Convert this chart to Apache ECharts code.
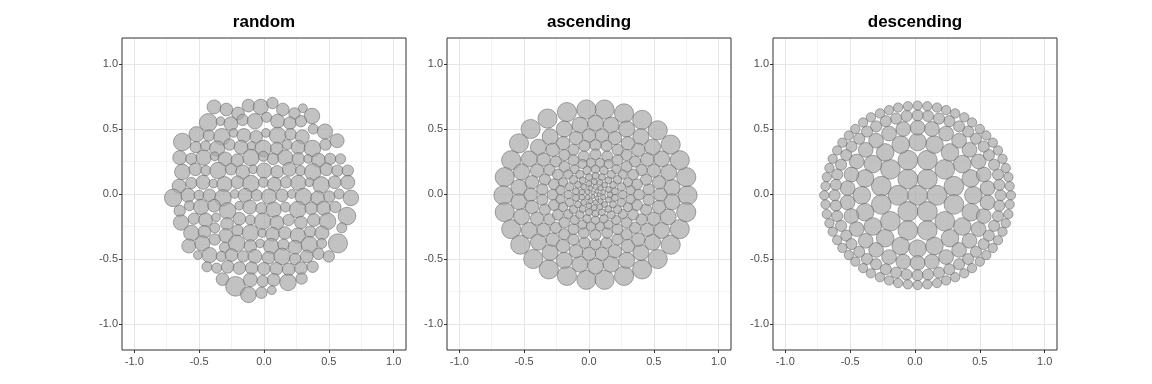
<!DOCTYPE html>
<html>
<head>
<meta charset="utf-8">
<script src="https://cdn.jsdelivr.net/npm/echarts@6/dist/echarts.min.js"></script>
<style>
html,body{margin:0;padding:0;background:#fff;}
#chart{width:1152px;height:384px;}
</style>
</head>
<body>
<div id="chart"></div>
<script>
// ---------- tick labels / titles ----------
const panelTitles = ['random', 'ascending', 'descending'];
const majorBreaks = [-1, -0.5, 0, 0.5, 1];
const minorBreaks = [-0.75, -0.25, 0.25, 0.75];

// ---------- panel "random": circles [x, y, radius] ----------
const randomUpper = [
[-0.385,0.67,0.054],[-0.29,0.65,0.049],[-0.2,0.62,0.049],[-0.12,0.68,0.049],[-0.025,0.67,0.059],[0.065,0.70,0.044],[0.145,0.65,0.049],[0.235,0.62,0.044],[0.30,0.66,0.034],[0.37,0.60,0.06],
[-0.43,0.55,0.069],[-0.335,0.56,0.034],[-0.255,0.54,0.054],[-0.165,0.57,0.044],[-0.07,0.56,0.059],[0.02,0.59,0.039],[0.105,0.56,0.054],[0.2,0.545,0.049],[0.285,0.56,0.044],
[-0.52,0.46,0.059],[-0.425,0.45,0.044],[-0.325,0.44,0.064],[-0.235,0.47,0.034],[-0.155,0.45,0.054],[-0.06,0.44,0.049],[0.015,0.47,0.034],[0.105,0.45,0.064],[0.205,0.46,0.044],[0.295,0.44,0.054],[0.38,0.50,0.039],[0.47,0.48,0.059],
[-0.63,0.40,0.068],[-0.526,0.36,0.044],[-0.451,0.37,0.039],[-0.361,0.35,0.059],[-0.266,0.38,0.044],[-0.176,0.36,0.054],[-0.096,0.37,0.034],[-0.006,0.35,0.064],[0.099,0.35,0.049],[0.179,0.38,0.039],[0.264,0.36,0.054],[0.374,0.35,0.064],[0.474,0.38,0.044],[0.564,0.41,0.054],
[-0.65,0.28,0.054],[-0.56,0.27,0.044],[-0.465,0.28,0.059],[-0.38,0.29,0.034],[-0.30,0.27,0.054],[-0.205,0.26,0.049],[-0.10,0.28,0.064],[-0.005,0.29,0.039],[0.07,0.27,0.044],[0.165,0.28,0.059],[0.265,0.27,0.049],[0.34,0.27,0.034],[0.42,0.26,0.054],[0.51,0.27,0.044],[0.59,0.27,0.04]
];
const randomMiddle = [
[-0.63,0.17,0.06],[-0.529,0.19,0.049],[-0.449,0.18,0.039],[-0.354,0.18,0.064],[-0.254,0.19,0.044],[-0.164,0.17,0.054],[-0.084,0.19,0.034],[0.001,0.18,0.059],[0.101,0.17,0.049],[0.196,0.19,0.054],[0.281,0.18,0.039],[0.376,0.17,0.064],[0.481,0.19,0.049],[0.566,0.18,0.044],[0.646,0.18,0.044],
[-0.655,0.06,0.054],[-0.56,0.085,0.044],[-0.47,0.09,0.054],[-0.39,0.08,0.034],[-0.305,0.075,0.059],[-0.205,0.09,0.049],[-0.10,0.08,0.064],[-0.005,0.09,0.039],[0.08,0.075,0.054],[0.17,0.09,0.044],[0.265,0.085,0.059],[0.35,0.09,0.034],[0.44,0.07,0.064],[0.545,0.09,0.049],[0.646,0.09,0.054],
[-0.70,-0.03,0.068],[-0.586,-0.01,0.054],[-0.501,-0.01,0.039],[-0.421,-0.01,0.049],[-0.316,-0.03,0.064],[-0.226,0.0,0.034],[-0.146,-0.01,0.054],[-0.056,-0.01,0.044],[0.039,-0.02,0.059],[0.139,-0.01,0.049],[0.214,0.0,0.034],[0.304,-0.02,0.064],[0.414,-0.03,0.054],[0.504,-0.02,0.044],[0.579,0.0,0.039],[0.67,-0.03,0.06],
[-0.65,-0.13,0.044],[-0.575,-0.09,0.039],[-0.485,-0.1,0.059],[-0.385,-0.09,0.049],[-0.28,-0.13,0.064],[-0.19,-0.09,0.034],[-0.11,-0.1,0.054],[-0.02,-0.11,0.044],[0.075,-0.12,0.059],[0.165,-0.1,0.039],[0.26,-0.12,0.064],[0.365,-0.11,0.049],[0.46,-0.11,0.054],[0.55,-0.1,0.044],
[-0.64,-0.22,0.059],[-0.54,-0.19,0.044],[-0.45,-0.2,0.054],[-0.37,-0.18,0.034],[-0.285,-0.23,0.049],[-0.19,-0.19,0.049],[-0.105,-0.2,0.039],[-0.01,-0.21,0.064],[0.10,-0.22,0.054],[0.19,-0.2,0.044],[0.285,-0.22,0.049],[0.385,-0.2,0.049],[0.49,-0.21,0.064],[0.64,-0.17,0.068]
];
const randomLower = [
[-0.56,-0.3,0.06],[-0.459,-0.29,0.049],[-0.379,-0.26,0.039],[-0.294,-0.32,0.054],[-0.204,-0.28,0.044],[-0.104,-0.3,0.064],[-0.014,-0.3,0.034],[0.066,-0.31,0.054],[0.161,-0.3,0.049],[0.261,-0.32,0.059],[0.356,-0.29,0.044],[0.446,-0.3,0.054],[0.6,-0.26,0.039],
[-0.58,-0.4,0.054],[-0.475,-0.38,0.059],[-0.38,-0.35,0.044],[-0.305,-0.41,0.039],[-0.21,-0.38,0.064],[-0.105,-0.4,0.049],[-0.03,-0.38,0.034],[0.055,-0.4,0.059],[0.15,-0.39,0.044],[0.24,-0.41,0.054],[0.35,-0.39,0.064],[0.445,-0.38,0.039],[0.57,-0.38,0.074],
[-0.51,-0.47,0.034],[-0.42,-0.47,0.059],[-0.33,-0.48,0.039],[-0.25,-0.47,0.049],[-0.16,-0.48,0.044],[-0.07,-0.48,0.054],[0.035,-0.49,0.049],[0.14,-0.48,0.064],[0.24,-0.5,0.044],[0.33,-0.48,0.049],[0.42,-0.46,0.044],[0.50,-0.48,0.044],
[-0.44,-0.56,0.039],[-0.365,-0.57,0.039],[-0.28,-0.56,0.049],[-0.19,-0.57,0.049],[-0.095,-0.57,0.049],[0.0,-0.575,0.049],[0.095,-0.575,0.049],[0.19,-0.58,0.049],[0.285,-0.57,0.049],[0.375,-0.56,0.044],
[-0.32,-0.655,0.049],[-0.22,-0.71,0.076],[-0.105,-0.66,0.054],[-0.12,-0.775,0.061],[-0.01,-0.67,0.044],[-0.02,-0.76,0.044],[0.075,-0.66,0.049],[0.185,-0.68,0.064],[0.29,-0.65,0.044],[0.06,-0.74,0.034]
];

// ---------- panel "ascending": rings of circles [x, y] with one radius per ring ----------
const ascendingOuter = [[0.76,-0.01],[0.75,0.13],[0.70,0.26],[0.63,0.38],[0.53,0.49],[0.41,0.57],[0.27,0.62],[0.12,0.65],[-0.02,0.65],[-0.17,0.63],[-0.32,0.58],[-0.45,0.50],[-0.54,0.39],[-0.60,0.26],[-0.65,0.13],[-0.66,-0.01],[-0.65,-0.14],[-0.60,-0.27],[-0.53,-0.39],[-0.43,-0.50],[-0.31,-0.58],[-0.17,-0.63],[-0.02,-0.66],[0.12,-0.66],[0.27,-0.63],[0.41,-0.58],[0.53,-0.50],[0.63,-0.39],[0.70,-0.27],[0.75,-0.14]];
const ascendingRing9 = [[0.64,0.05],[0.615,0.165],[0.56,0.27],[0.49,0.36],[0.40,0.44],[0.29,0.50],[0.17,0.53],[0.05,0.545],[-0.07,0.53],[-0.19,0.50],[-0.30,0.44],[-0.39,0.36],[-0.46,0.27],[-0.52,0.17],[-0.54,0.05],[-0.54,-0.06],[-0.52,-0.175],[-0.46,-0.28],[-0.39,-0.37],[-0.30,-0.45],[-0.19,-0.51],[-0.07,-0.54],[0.05,-0.555],[0.17,-0.54],[0.29,-0.51],[0.40,-0.45],[0.49,-0.37],[0.56,-0.28],[0.61,-0.175],[0.64,-0.06]];
const ascendingRing8 = [[0.55,-0.005],[0.54,0.09],[0.50,0.18],[0.45,0.265],[0.38,0.34],[0.30,0.39],[0.20,0.43],[0.10,0.45],[0.0,0.45],[-0.10,0.43],[-0.20,0.39],[-0.28,0.34],[-0.35,0.265],[-0.40,0.18],[-0.44,0.09],[-0.45,-0.005],[-0.44,-0.10],[-0.40,-0.19],[-0.35,-0.275],[-0.28,-0.35],[-0.20,-0.40],[-0.10,-0.44],[0.0,-0.46],[0.10,-0.46],[0.20,-0.44],[0.30,-0.40],[0.38,-0.35],[0.45,-0.275],[0.50,-0.19],[0.54,-0.10]];
const ascendingRing7 = [[0.46,0.035],[0.44,0.11],[0.405,0.185],[0.355,0.25],[0.29,0.30],[0.22,0.34],[0.135,0.37],[0.05,0.375],[-0.035,0.37],[-0.12,0.34],[-0.19,0.30],[-0.255,0.25],[-0.305,0.185],[-0.34,0.11],[-0.36,0.035],[-0.36,-0.045],[-0.34,-0.12],[-0.305,-0.195],[-0.255,-0.26],[-0.19,-0.31],[-0.12,-0.35],[-0.035,-0.375],[0.05,-0.385],[0.135,-0.375],[0.22,-0.35],[0.29,-0.31],[0.355,-0.26],[0.405,-0.195],[0.44,-0.12],[0.46,-0.045]];
const ascendingRing6 = [[0.385,-0.005],[0.37,0.075],[0.34,0.15],[0.29,0.21],[0.22,0.26],[0.14,0.29],[0.05,0.305],[-0.04,0.29],[-0.12,0.26],[-0.19,0.21],[-0.24,0.15],[-0.27,0.075],[-0.28,-0.005],[-0.27,-0.085],[-0.24,-0.16],[-0.19,-0.22],[-0.12,-0.27],[-0.04,-0.30],[0.05,-0.315],[0.14,-0.30],[0.22,-0.27],[0.29,-0.22],[0.34,-0.16],[0.37,-0.085]];
const ascendingRing5 = [[0.32,0.03],[0.30,0.09],[0.26,0.15],[0.21,0.19],[0.15,0.23],[0.085,0.24],[0.015,0.24],[-0.05,0.23],[-0.11,0.19],[-0.16,0.15],[-0.20,0.09],[-0.22,0.03],[-0.22,-0.04],[-0.20,-0.10],[-0.16,-0.155],[-0.11,-0.20],[-0.05,-0.235],[0.015,-0.25],[0.085,-0.25],[0.15,-0.235],[0.21,-0.20],[0.26,-0.155],[0.30,-0.10],[0.32,-0.04]];
const ascendingRing4 = [[0.26,-0.005],[0.25,0.055],[0.22,0.11],[0.17,0.15],[0.115,0.18],[0.05,0.19],[-0.015,0.18],[-0.07,0.15],[-0.12,0.11],[-0.15,0.055],[-0.16,-0.005],[-0.15,-0.065],[-0.12,-0.12],[-0.07,-0.16],[-0.015,-0.19],[0.05,-0.20],[0.115,-0.19],[0.17,-0.16],[0.22,-0.12],[0.25,-0.065]];
const ascendingRing3 = [[0.20,0.02],[0.185,0.07],[0.15,0.105],[0.10,0.13],[0.05,0.14],[0.0,0.13],[-0.05,0.105],[-0.085,0.07],[-0.10,0.02],[-0.10,-0.03],[-0.085,-0.08],[-0.05,-0.115],[0.0,-0.14],[0.05,-0.15],[0.10,-0.14],[0.15,-0.115],[0.185,-0.08],[0.20,-0.03]];
const ascendingRing2 = [[0.16,-0.005],[0.15,0.035],[0.12,0.07],[0.085,0.09],[0.04,0.095],[0.0,0.08],[-0.04,0.055],[-0.055,0.015],[-0.055,-0.025],[-0.04,-0.065],[0.0,-0.09],[0.04,-0.105],[0.085,-0.10],[0.12,-0.08],[0.15,-0.045]];
const ascendingRing1 = [[0.11,0.015],[0.09,0.045],[0.05,0.055],[0.01,0.045],[-0.01,0.015],[-0.01,-0.025],[0.01,-0.055],[0.05,-0.065],[0.09,-0.055],[0.11,-0.025]];
const ascendingCore = [[0.075,-0.005],[0.06,0.02],[0.03,0.01],[0.03,-0.02],[0.06,-0.03]];
const ascendingRadii = [0.074, 0.062, 0.052, 0.0435, 0.042, 0.0355, 0.0325, 0.027, 0.023, 0.020, 0.016];

// ---------- panel "descending": rings of circles [x, y] with one radius per ring ----------
const descendingCore = [[0.02,-0.01],[0.17,-0.01],[0.095,0.115],[-0.055,0.115],[-0.13,-0.01],[-0.055,-0.135],[0.095,-0.135]];
const descendingRing2 = [[0.30,0.06],[0.23,0.19],[0.095,0.26],[-0.055,0.26],[-0.19,0.19],[-0.26,0.06],[-0.26,-0.08],[-0.19,-0.21],[-0.055,-0.28],[0.095,-0.28],[0.23,-0.21],[0.30,-0.08]];
const descendingRing3 = [[0.45,-0.01],[0.43,0.12],[0.365,0.23],[0.27,0.32],[0.15,0.38],[0.02,0.40],[-0.11,0.38],[-0.23,0.32],[-0.325,0.23],[-0.385,0.12],[-0.41,-0.01],[-0.385,-0.14],[-0.325,-0.25],[-0.23,-0.34],[-0.11,-0.40],[0.02,-0.42],[0.15,-0.40],[0.27,-0.34],[0.365,-0.25],[0.43,-0.14]];
const descendingRing4 = [[0.56,0.045],[0.53,0.15],[0.49,0.25],[0.42,0.34],[0.34,0.41],[0.24,0.465],[0.13,0.50],[0.02,0.51],[-0.09,0.50],[-0.20,0.465],[-0.30,0.41],[-0.38,0.34],[-0.45,0.25],[-0.49,0.15],[-0.52,0.045],[-0.52,-0.065],[-0.49,-0.17],[-0.45,-0.27],[-0.38,-0.36],[-0.30,-0.43],[-0.20,-0.485],[-0.09,-0.52],[0.02,-0.53],[0.13,-0.52],[0.24,-0.485],[0.34,-0.43],[0.42,-0.36],[0.49,-0.27],[0.53,-0.17],[0.56,-0.065]];
const descendingRing5 = [[0.66,-0.01],[0.65,0.07],[0.64,0.15],[0.61,0.225],[0.57,0.30],[0.53,0.365],[0.47,0.425],[0.41,0.48],[0.34,0.52],[0.265,0.56],[0.185,0.58],[0.10,0.60],[0.02,0.605],[-0.065,0.60],[-0.145,0.58],[-0.225,0.56],[-0.30,0.52],[-0.37,0.48],[-0.43,0.425],[-0.49,0.365],[-0.53,0.30],[-0.57,0.225],[-0.60,0.15],[-0.61,0.07],[-0.62,-0.01],[-0.61,-0.09],[-0.60,-0.17],[-0.57,-0.245],[-0.53,-0.32],[-0.49,-0.385],[-0.43,-0.445],[-0.37,-0.50],[-0.30,-0.54],[-0.225,-0.58],[-0.145,-0.605],[-0.065,-0.62],[0.02,-0.625],[0.10,-0.62],[0.185,-0.605],[0.265,-0.58],[0.34,-0.54],[0.41,-0.50],[0.47,-0.445],[0.53,-0.385],[0.57,-0.32],[0.61,-0.245],[0.64,-0.17],[0.65,-0.09]];
const descendingRing6 = [[0.74,-0.01],[0.73,0.06],[0.72,0.13],[0.70,0.20],[0.675,0.27],[0.64,0.335],[0.60,0.395],[0.55,0.45],[0.50,0.50],[0.44,0.55],[0.38,0.59],[0.31,0.62],[0.24,0.645],[0.17,0.665],[0.095,0.675],[0.02,0.68],[-0.055,0.675],[-0.13,0.665],[-0.20,0.645],[-0.27,0.62],[-0.34,0.59],[-0.40,0.55],[-0.46,0.50],[-0.51,0.45],[-0.56,0.395],[-0.60,0.335],[-0.635,0.27],[-0.66,0.20],[-0.68,0.13],[-0.69,0.06],[-0.70,-0.01],[-0.69,-0.08],[-0.68,-0.155],[-0.66,-0.225],[-0.635,-0.29],[-0.60,-0.355],[-0.56,-0.415],[-0.51,-0.47],[-0.46,-0.52],[-0.40,-0.57],[-0.34,-0.61],[-0.27,-0.64],[-0.20,-0.665],[-0.13,-0.685],[-0.055,-0.695],[0.02,-0.70],[0.095,-0.695],[0.17,-0.685],[0.24,-0.665],[0.31,-0.64],[0.38,-0.61],[0.44,-0.57],[0.50,-0.52],[0.55,-0.47],[0.60,-0.415],[0.64,-0.355],[0.675,-0.29],[0.70,-0.225],[0.72,-0.155],[0.73,-0.08]];
const descendingRadii = [0.077, 0.076, 0.068, 0.057, 0.043, 0.036];

// ---------- build series tables ----------
function withRadius(points, r) { return points.map(p => [p[0], p[1], r]); }
const ascendingRings = [ascendingOuter, ascendingRing9, ascendingRing8, ascendingRing7, ascendingRing6, ascendingRing5, ascendingRing4, ascendingRing3, ascendingRing2, ascendingRing1, ascendingCore];
const descendingRings = [descendingCore, descendingRing2, descendingRing3, descendingRing4, descendingRing5, descendingRing6];
const panelData = [
  randomUpper.concat(randomMiddle, randomLower),
  [].concat(...ascendingRings.map((ring, i) => withRadius(ring, ascendingRadii[i]))),
  [].concat(...descendingRings.map((ring, i) => withRadius(ring, descendingRadii[i])))
];

// ---------- layout ----------
const FONT = '"Liberation Sans", Arial, Helvetica, sans-serif';
const gridLefts = [122, 447, 773];
const GRID_W = 284, GRID_H = 312, GRID_TOP = 38;

function renderCircle(params, api) {
  const c = api.coord([api.value(0), api.value(1)]);
  const s = api.size([api.value(2), api.value(2)]);
  return {
    type: 'circle',
    shape: { cx: c[0], cy: c[1], r: s[0] },
    style: { fill: 'rgba(170,170,170,0.72)', stroke: 'rgba(80,80,80,0.62)', lineWidth: 0.75 }
  };
}

function axisCommon(i, min, max, margin) {
  return {
    gridIndex: i, type: 'value', min: min, max: max,
    axisLine: { show: false, onZero: false },
    axisTick: { show: true, length: 3, lineStyle: { color: '#333', width: 1 }, customValues: majorBreaks },
    axisLabel: { show: true, customValues: majorBreaks, formatter: v => Number(v).toFixed(1),
      color: '#4d4d4d', fontSize: 11, fontFamily: FONT, margin: margin },
    splitLine: { show: false }
  };
}

const option = {
  animation: false,
  backgroundColor: '#ffffff',
  title: panelTitles.map((t, i) => ({
    text: t,
    left: gridLefts[i] + GRID_W / 2,
    top: 14,
    padding: 0,
    textAlign: 'center',
    textStyle: { fontFamily: FONT, fontSize: 17, fontWeight: 'bold', color: '#000' }
  })),
  grid: gridLefts.map(l => ({
    left: l, top: GRID_TOP, width: GRID_W, height: GRID_H,
    show: true, borderColor: '#333333', borderWidth: 1, backgroundColor: 'transparent', z: 3
  })),
  xAxis: gridLefts.map((_, i) => axisCommon(i, -1.095, 1.095, 6)),
  yAxis: gridLefts.map((_, i) => axisCommon(i, -1.2, 1.2, 4)),
  series: []
};

gridLefts.forEach((_, i) => {
  // minor grid lines
  option.series.push({
    type: 'line', xAxisIndex: i, yAxisIndex: i, data: [], z: 1, silent: true,
    markLine: {
      z: 1, silent: true, symbol: 'none', animation: false,
      label: { show: false },
      lineStyle: { color: '#eeeeee', width: 0.7, type: 'solid' },
      emphasis: { disabled: true },
      data: minorBreaks.map(v => ({ xAxis: v })).concat(minorBreaks.map(v => ({ yAxis: v })))
    }
  });
  // major grid lines
  option.series.push({
    type: 'line', xAxisIndex: i, yAxisIndex: i, data: [], z: 1, silent: true,
    markLine: {
      z: 1, silent: true, symbol: 'none', animation: false,
      label: { show: false },
      lineStyle: { color: '#e6e6e6', width: 1.1, type: 'solid' },
      emphasis: { disabled: true },
      data: majorBreaks.map(v => ({ xAxis: v })).concat(majorBreaks.map(v => ({ yAxis: v })))
    }
  });
  option.series.push({
    type: 'custom', xAxisIndex: i, yAxisIndex: i, z: 2, silent: true, clip: true,
    encode: { x: 0, y: 1 },
    renderItem: renderCircle,
    data: panelData[i]
  });
});

const chart = echarts.init(document.getElementById('chart'), null, { renderer: 'canvas' });
chart.setOption(option);
</script>
</body>
</html>
